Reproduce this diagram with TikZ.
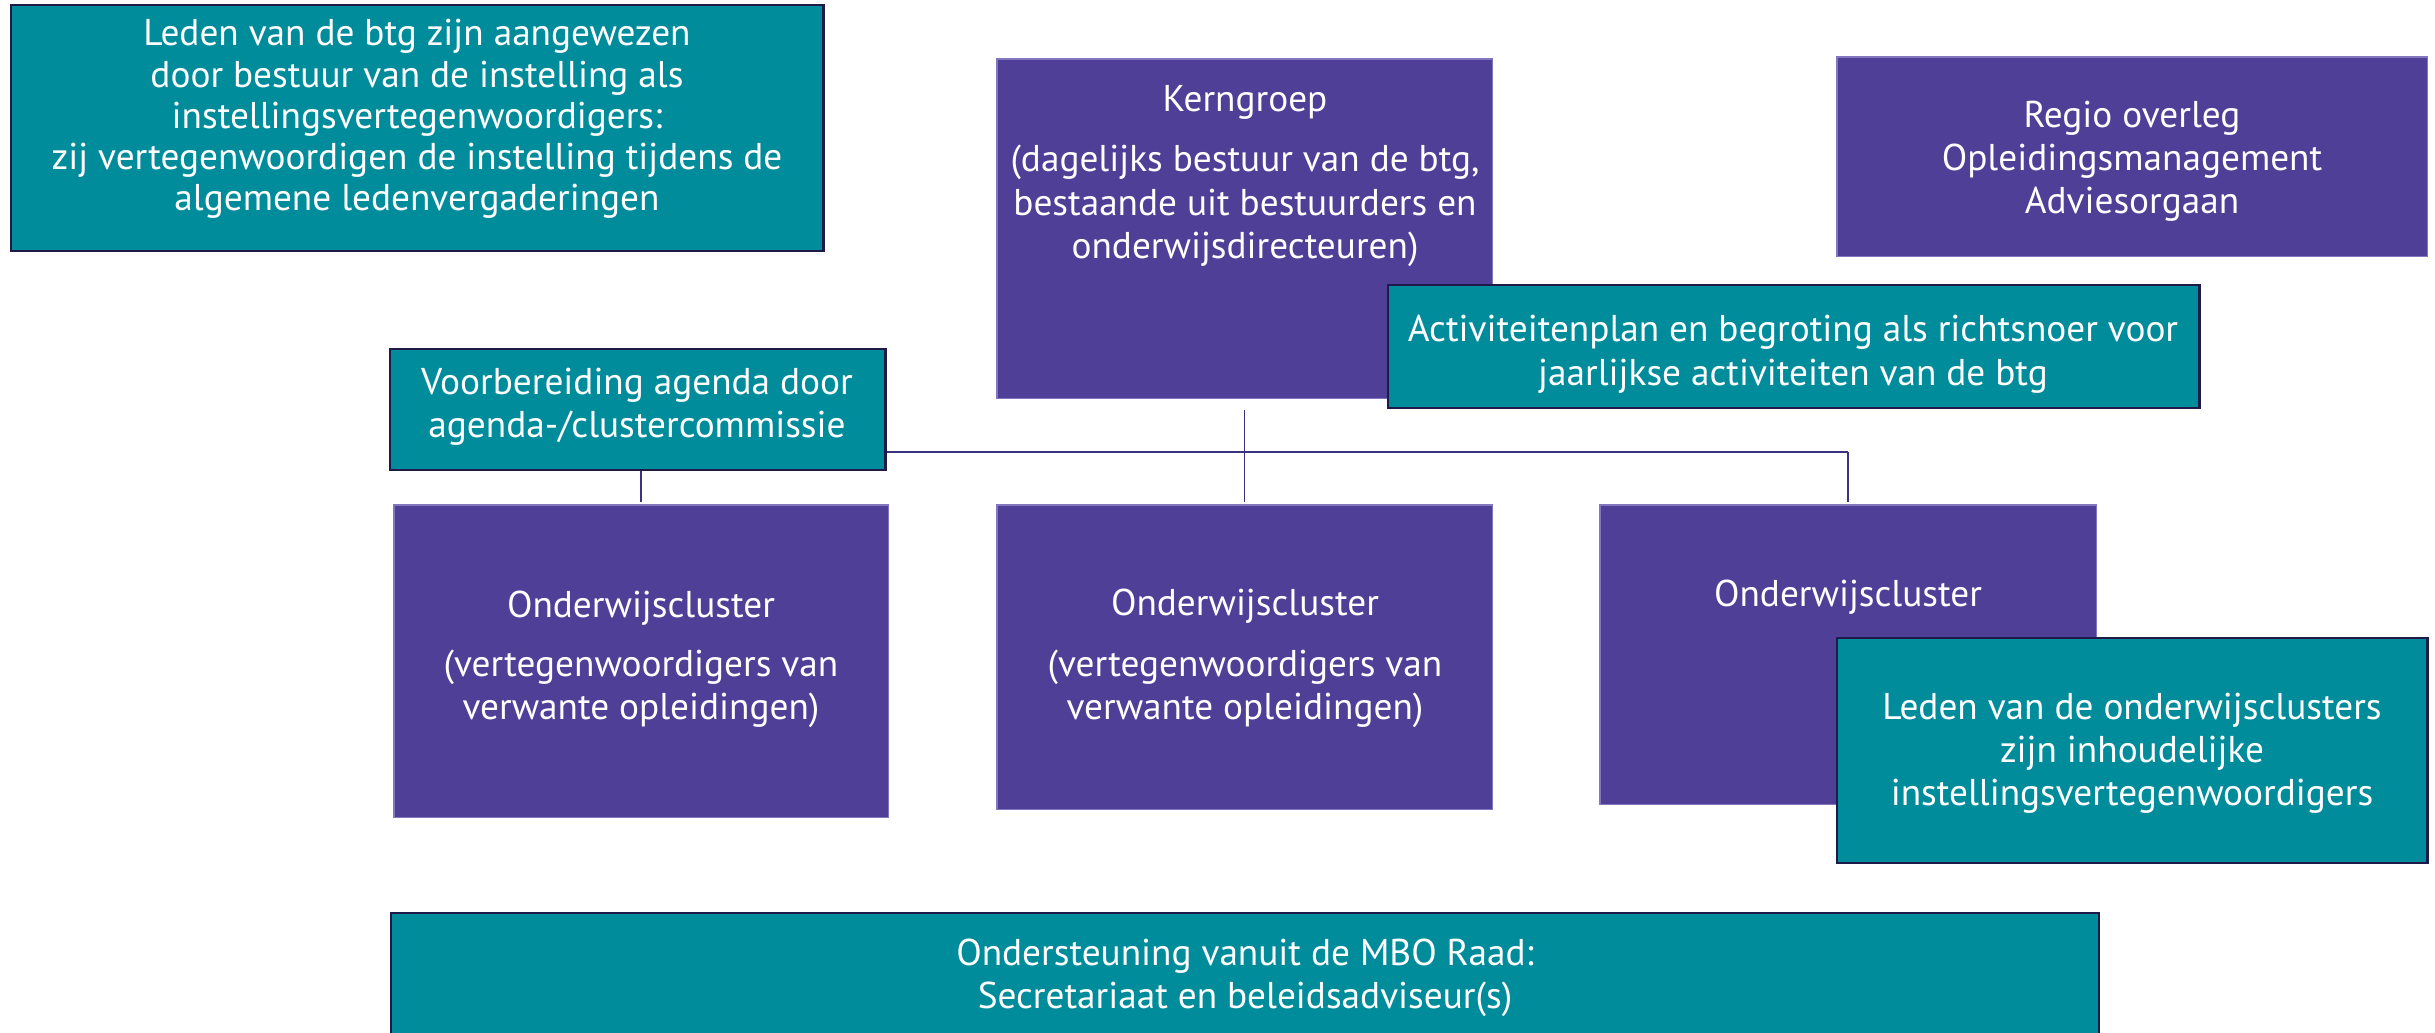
\documentclass[tikz,border=0pt]{standalone}
\usepackage{fontspec}
\setmainfont{PT Sans}
\definecolor{purp}{RGB}{79,63,150}
\definecolor{purpedge}{RGB}{130,118,190}
\definecolor{teal}{RGB}{0,140,155}
\definecolor{navy}{RGB}{30,27,75}
\definecolor{conncol}{RGB}{60,50,130}
\tikzset{
  pbox/.style={fill=purp, draw=purpedge, line width=0.3pt, anchor=north west, inner sep=0pt, outer sep=0pt},
  tbox/.style={fill=teal, draw=navy, line width=0.7pt, anchor=north west, inner sep=0pt, outer sep=0pt},
  txt/.style={text=white, align=center, font=\fontsize{10.6}{12.3}\selectfont, inner sep=0pt},
  conn/.style={draw=conncol, line width=0.4pt},
  bus/.style={draw=conncol, line width=0.7pt},
}
\begin{document}
\begin{tikzpicture}[x=0.01cm, y=-0.01cm]
\useasboundingbox (0,0) rectangle (2435,1032);
\clip (0,0) rectangle (2435,1032);
% purple boxes
\node[pbox, minimum width=4.95cm, minimum height=3.39cm] (kern) at (997,59) {};
\node[pbox, minimum width=5.90cm, minimum height=1.99cm] (regio) at (1837,57) {};
\node[pbox, minimum width=4.94cm, minimum height=3.12cm] (oc1) at (394,505) {};
\node[pbox, minimum width=4.95cm, minimum height=3.04cm] (oc2) at (997,505) {};
\node[pbox, minimum width=4.96cm, minimum height=2.99cm] (oc3) at (1600,505) {};
% connectors
\coordinate (busL) at (641,452);
\coordinate (busR) at (1848,452);
\draw[conn, shorten <=3.4pt, shorten >=0.9pt] (kern.south) -- (oc2.north);
\draw[bus] (busL) -- (busR);
\draw[conn, shorten >=0.9pt] (busL) -- (busL |- oc1.north);
\draw[conn, shorten >=0.9pt] (busR) -- (busR |- oc3.north);
% teal boxes
\node[tbox, minimum width=8.12cm, minimum height=2.46cm] (lid) at (11,5) {};
\node[tbox, minimum width=8.11cm, minimum height=1.23cm] (act) at (1388,285) {};
\node[tbox, minimum width=4.95cm, minimum height=1.21cm] (voor) at (390,349) {};
\node[tbox, minimum width=5.90cm, minimum height=2.25cm] (leden) at (1837,638) {};
\node[tbox, minimum width=17.07cm, minimum height=1.40cm] (onder) at (391,913) {};
% texts
\node[txt, font=\fontsize{10.6}{11.7}\selectfont] (tlid) at (417,119) {Leden van de btg zijn aangewezen\\door bestuur van de instelling als\\instellingsvertegenwoordigers:\\zij vertegenwoordigen de instelling tijdens de\\algemene ledenvergaderingen};
\node[txt] (tkern1) at (1245,102) {Kerngroep};
\node[txt] (tkern2) at (1245,206) {(dagelijks bestuur van de btg,\\bestaande uit bestuurders en\\onderwijsdirecteuren)};
\node[txt] (tregio) at (2132,161) {Regio overleg\\Opleidingsmanagement\\Adviesorgaan};
\node[txt, font=\fontsize{10.6}{12.5}\selectfont] (tact) at (1793,354) {Activiteitenplan en begroting als richtsnoer voor\\jaarlijkse activiteiten van de btg};
\node[txt] (tvoor) at (637,407) {Voorbereiding agenda door\\agenda-/clustercommissie};
\node[txt] (toc1a) at (641,608) {Onderwijscluster};
\node[txt] (toc1b) at (641,689) {(vertegenwoordigers van\\verwante opleidingen)};
\node[txt] (toc2a) at (1245,606) {Onderwijscluster};
\node[txt] (toc2b) at (1245,689) {(vertegenwoordigers van\\verwante opleidingen)};
\node[txt] (toc3a) at (1848,597) {Onderwijscluster};
\node[txt] (tleden) at (2132,753) {Leden van de onderwijsclusters\\zijn inhoudelijke\\instellingsvertegenwoordigers};
\node[txt] (tonder) at (1245,978) {Ondersteuning vanuit de MBO Raad:\\Secretariaat en beleidsadviseur(s)};
\end{tikzpicture}
\end{document}
